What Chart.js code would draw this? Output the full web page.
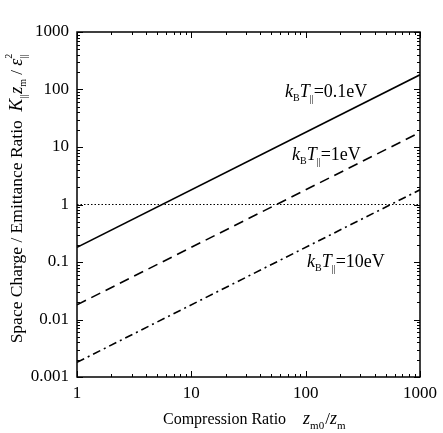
<!DOCTYPE html>
<html lang="en">
<head>
    <meta charset="UTF-8">
    <title>Space charge / emittance ratio</title>
    <script src="https://cdn.jsdelivr.net/npm/chart.js"></script>
    <style>
        body {
            margin: 0;
            background: #ffffff;
        }
        canvas {
            display: block;
        }
    </style>
</head>
<body>
    <canvas id="chart" width="443" height="433"></canvas>
    <script>
        // data (straight lines on log-log axes)
        const compression = [1, 1000];
        const ratio01eV = [0.18, 180];
        const ratio1eV = [0.018, 18];
        const ratio10eV = [0.0018, 1.8];
        const unity = [1, 1];

        const xTickLabels = ['1', '10', '100', '1000'];
        const yTickLabels = ['0.001', '0.01', '0.1', '1', '10', '100', '1000'];

        const SERIF = '"Liberation Serif", "Times New Roman", serif';

        function logTicks(min, max) {
            const out = [];
            for (let e = Math.round(Math.log10(min)); e < Math.round(Math.log10(max)); e++) {
                for (let m = 1; m < 10; m++) out.push({ value: m * Math.pow(10, e) });
            }
            out.push({ value: max });
            return out;
        }

        function isDecade(v) {
            const l = Math.log10(v);
            return Math.abs(l - Math.round(l)) < 1e-9;
        }

        function pts(ys) {
            return compression.map((x, i) => ({ x: x, y: ys[i] }));
        }

        // draw text with italic / sub / superscript pieces
        function drawRich(ctx, segs, x, y) {
            let cx = x;
            segs.forEach(s => {
                ctx.font = (s.it ? 'italic ' : '') + s.sz + 'px ' + SERIF;
                ctx.fillText(s.t, cx, y + (s.dy || 0));
                if (!s.stack) cx += ctx.measureText(s.t).width + (s.gap || 0);
            });
            return cx - x;
        }

        function richWidth(ctx, segs) {
            let w = 0;
            segs.forEach(s => {
                ctx.font = (s.it ? 'italic ' : '') + s.sz + 'px ' + SERIF;
                if (!s.stack) w += ctx.measureText(s.t).width + (s.gap || 0);
            });
            return w;
        }

        function kbt(value) {
            return [
                { t: 'k', it: true, sz: 18 },
                { t: 'B', sz: 10, dy: 4 },
                { t: 'T', it: true, sz: 18 },
                { t: '||', sz: 10, dy: 5 },
                { t: '=' + value, sz: 18 }
            ];
        }

        const xTitle = [
            { t: 'Compression Ratio', sz: 16, gap: 17 },
            { t: 'z', it: true, sz: 18 },
            { t: 'm0', sz: 11, dy: 5, gap: 1 },
            { t: '/', sz: 17 },
            { t: 'z', it: true, sz: 18 },
            { t: 'm', sz: 11, dy: 5 }
        ];

        const yTitle = [
            { t: 'Space Charge / Emittance Ratio  ', sz: 17.5 },
            { t: 'K', it: true, sz: 19 },
            { t: '||', sz: 10, dy: 5, gap: 1 },
            { t: 'z', it: true, sz: 18 },
            { t: 'm', sz: 10, dy: 4 },
            { t: ' / ', sz: 17 },
            { t: 'ε', it: true, sz: 18 },
            { t: '2', sz: 10, dy: -10, stack: true },
            { t: '||', sz: 10, dy: 5 }
        ];

        const decorations = {
            id: 'decorations',
            afterDraw(chart) {
                const ctx = chart.ctx;
                const a = chart.chartArea;
                const xs = chart.scales.x;
                const ys = chart.scales.y;
                ctx.save();
                ctx.strokeStyle = '#000';
                ctx.lineWidth = 1;

                // inward tick marks on all four sides
                xs.ticks.forEach(t => {
                    const p = Math.round(xs.getPixelForValue(t.value)) + 0.5;
                    const len = isDecade(t.value) ? 6 : 3;
                    ctx.beginPath();
                    ctx.moveTo(p, a.bottom); ctx.lineTo(p, a.bottom - len);
                    ctx.moveTo(p, a.top); ctx.lineTo(p, a.top + len);
                    ctx.stroke();
                });
                ys.ticks.forEach(t => {
                    const p = Math.round(ys.getPixelForValue(t.value)) + 0.5;
                    const len = isDecade(t.value) ? 6 : 3;
                    ctx.beginPath();
                    ctx.moveTo(a.left, p); ctx.lineTo(a.left + len, p);
                    ctx.moveTo(a.right, p); ctx.lineTo(a.right - len, p);
                    ctx.stroke();
                });

                // frame
                ctx.lineWidth = 1.5;
                ctx.strokeRect(a.left, a.top, a.right - a.left, a.bottom - a.top);

                ctx.fillStyle = '#000';
                ctx.textBaseline = 'alphabetic';
                ctx.textAlign = 'left';

                // line labels
                drawRich(ctx, kbt('0.1eV'), 285, 97);
                drawRich(ctx, kbt('1eV'), 292, 160);
                drawRich(ctx, kbt('10eV'), 307, 267);

                // x title
                drawRich(ctx, xTitle, 163, 424);

                // y title, rotated
                const w = richWidth(ctx, yTitle);
                ctx.translate(22, 199);
                ctx.rotate(-Math.PI / 2);
                drawRich(ctx, yTitle, -w / 2, 0);
                ctx.restore();
            }
        };

        Chart.defaults.color = '#000';
        Chart.defaults.font.family = SERIF;

        new Chart(document.getElementById('chart'), {
            type: 'line',
            data: {
                datasets: [
                    {
                        label: 'kBT=0.1eV',
                        data: pts(ratio01eV),
                        borderColor: '#000',
                        borderWidth: 1.6
                    },
                    {
                        label: 'kBT=1eV',
                        data: pts(ratio1eV),
                        borderColor: '#000',
                        borderWidth: 1.6,
                        borderDash: [10, 6]
                    },
                    {
                        label: 'kBT=10eV',
                        data: pts(ratio10eV),
                        borderColor: '#000',
                        borderWidth: 1.6,
                        borderDash: [8, 4, 2, 4]
                    },
                    {
                        label: 'unity',
                        data: pts(unity),
                        borderColor: '#000',
                        borderWidth: 1.2,
                        borderDash: [1.5, 2]
                    }
                ]
            },
            options: {
                responsive: false,
                animation: false,
                elements: { point: { radius: 0 } },
                layout: { padding: { top: 32, right: 23, left: 0, bottom: 0 } },
                plugins: {
                    legend: { display: false },
                    tooltip: { enabled: false }
                },
                scales: {
                    x: {
                        type: 'logarithmic',
                        min: 1,
                        max: 1000,
                        grid: { display: false, drawTicks: false },
                        border: { display: false },
                        afterBuildTicks: s => { s.ticks = logTicks(1, 1000); },
                        afterFit: s => { s.height = 56; },
                        ticks: {
                            autoSkip: false,
                            maxRotation: 0,
                            padding: 6,
                            font: { size: 17, family: SERIF },
                            callback: v => isDecade(v) ? xTickLabels[Math.round(Math.log10(v))] : ''
                        }
                    },
                    y: {
                        type: 'logarithmic',
                        min: 0.001,
                        max: 1000,
                        grid: { display: false, drawTicks: false },
                        border: { display: false },
                        afterBuildTicks: s => { s.ticks = logTicks(0.001, 1000); },
                        afterFit: s => { s.width = 77; },
                        ticks: {
                            autoSkip: false,
                            padding: 8,
                            font: { size: 17, family: SERIF },
                            callback: v => isDecade(v) ? yTickLabels[Math.round(Math.log10(v)) + 3] : ''
                        }
                    }
                }
            },
            plugins: [decorations]
        });
    </script>
</body>
</html>
